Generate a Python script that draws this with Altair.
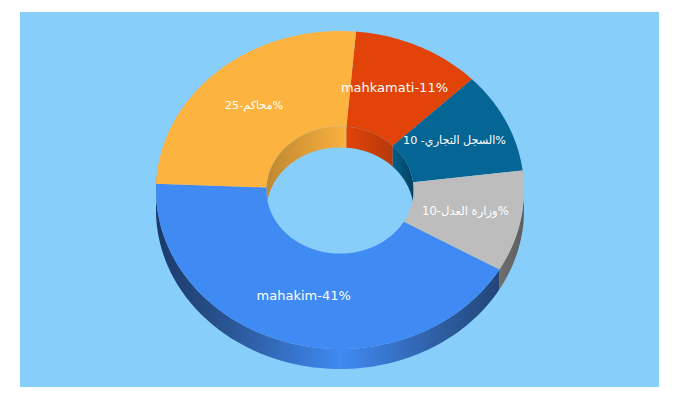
import math
import altair as alt

# ---- values ----
names = ["mahkamati", "sijil", "adl", "mahakim", "mahakem"]
labels = ["mahkamati-11%", "السجل التجاري- 10%", "وزارة العدل-10%", "mahakim-41%", "محاكم-25%"]
shares = [11, 10, 10, 41, 25]
label_sizes = [13, 11.2, 11.6, 13, 11.2]
top_colors = ["#E24308", "#056594", "#BDBDBD", "#408AF3", "#FDB33F"]
wall_stops = {
    "mahakim": [(0, "#1B3A68"), (0.18, "#28508C"), (0.538, "#408AF3"), (0.85, "#2C5A9C"), (1, "#224579")],
    "adl": [(0, "#6E6E6E"), (1, "#5E5E5E")],
    "sijil": [(0, "#05608C"), (1, "#03405F")],
    "mahkamati": [(0, "#E24308"), (1, "#B5390C")],
    "mahakem": [(0, "#BF8830"), (1, "#FAB13F")],
}
label_nudge = [(0, -3), (0, -2), (1, 0), (-1, 1), (-2, -2)]
bg_color = "#87CEFA"

# geometry of the tilted doughnut (page pixels minus the plot origin)
left, top, view_w, view_h = 20, 12, 639, 375
cx, cy, rx, ry = 340 - left, 190 - top, 184, 159
hole, depth, start_deg = 0.4, 20, 5.0

total = sum(shares)
edges = [start_deg]
for s in shares:
    edges.append(edges[-1] + 360 * s / total)


def pt(deg, k=1.0, dy=0.0):
    a = math.radians(deg)
    return [cx + rx * k * math.sin(a), cy - ry * k * math.cos(a) + dy]


def arc(a, b, k=1.0, dy=0.0):
    n = max(2, int(abs(b - a)))
    return [pt(a + (b - a) * i / n, k, dy) for i in range(n + 1)]


def feature(ring):
    return {"type": "Feature", "properties": {},
            "geometry": {"type": "Polygon", "coordinates": [ring + [ring[0]]]}}


def band(a, b, k1, d1, k2, d2):
    return feature(arc(a, b, k1, d1) + arc(b, a, k2, d2))


def shape(feat, fill):
    data = alt.Data(values=[feat])
    return alt.Chart(data).mark_geoshape(fill=fill, strokeWidth=0).project(
        type="identity", scale=1, translate=[0, 0]
    )


def gradient(name):
    return alt.LinearGradient(
        gradient="linear", x1=0, x2=1, y1=0, y2=0,
        stops=[alt.GradientStop(offset=o, color=c) for o, c in wall_stops[name]],
    )


layers = []
# outer walls, lower half only
for i, name in enumerate(names):
    a, b = edges[i], edges[i + 1]
    lo, hi = max(a, 90), min(b, 270 + 3)
    if name == "mahakem":
        lo, hi = a, a + 4
    if hi > lo:
        if name == "mahakem":
            layers.append(shape(band(lo, hi, 1, 0, 1, depth), "#B98A3A"))
        else:
            layers.append(shape(band(lo, hi, 1, 0, 1, depth), gradient(name)))
# inner walls, upper half only (angles past 270 or before 90)
inner_ranges = {"mahakem": (edges[4], edges[5]), "mahkamati": (edges[0] + 360, edges[1] + 360),
                "sijil": (edges[1] + 360, 360 + 90)}
for name in ["mahakem", "mahkamati", "sijil"]:
    a, b = inner_ranges[name]
    a = max(a, 270)
    layers.append(shape(band(a, b, hole, 0, hole, depth + 1), gradient(name)))
# top surfaces
for i, name in enumerate(names):
    layers.append(shape(band(edges[i], edges[i + 1], 1, 0, hole, 0), top_colors[i]))

# labels at 69% of the radius, on each slice's middle angle
rows = []
for i, text in enumerate(labels):
    x, y = pt((edges[i] + edges[i + 1]) / 2, 0.69)
    rows.append({"t": text, "lx": x + label_nudge[i][0], "ly": y + label_nudge[i][1],
                 "fs": label_sizes[i]})
text_layer = alt.Chart(alt.Data(values=rows)).mark_text(
    color="white", font="DejaVu Sans", align="center", baseline="middle"
).encode(
    x=alt.X("lx:Q", scale=None, axis=None),
    y=alt.Y("ly:Q", scale=None, axis=None),
    size=alt.Size("fs:Q", scale=None, legend=None),
    text="t:N",
)

chart = alt.layer(*layers, text_layer).properties(
    width=view_w, height=view_h,
    padding={"left": left - 8, "top": top - 8, "right": 0, "bottom": 0},
    background="white", autosize=alt.AutoSizeParams(type="none"),
).configure_view(fill=bg_color, stroke=None)

chart.save("out.html", embed_options={"renderer": "svg", "actions": False})
